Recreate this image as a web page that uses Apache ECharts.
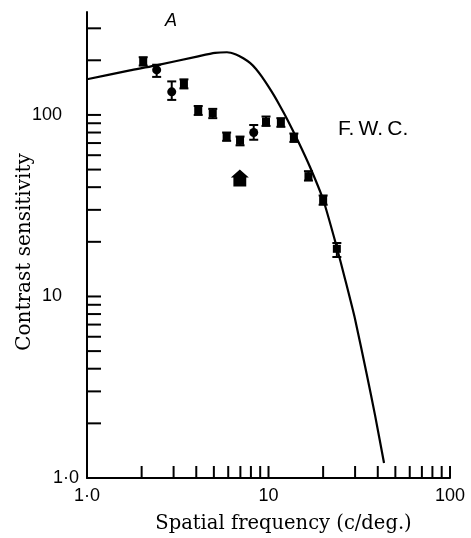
<!DOCTYPE html>
<html>
<head>
<meta charset="utf-8">
<script src="https://cdn.jsdelivr.net/npm/echarts@6/dist/echarts.min.js"></script>
<style>html,body{margin:0;padding:0;background:#fff;}#c{width:471px;height:538px;}</style>
</head>
<body>
<div id="c"></div>
<script>
// Spatial frequency (c/deg.) of measured points
const freq = [2.04, 2.42, 2.93, 3.42, 4.10, 4.93, 5.88, 6.97, 8.29, 9.69, 11.7, 13.8, 16.6, 20.0, 23.8];
// Contrast sensitivity of measured points
const sens = [197, 177, 134, 148, 106, 102, 76, 72, 80, 92, 91, 75, 46, 34, 18.3];
const errLo = [187, 162, 121, 140, 100, 96, 72, 68, 73, 87, 86, 71, 43.5, 32, 16.5];
const errHi = [208, 189, 153, 157, 112, 108, 80, 76, 88, 98, 96, 79, 49, 36, 19.7];
const shape = ['sq','ci','ci','sq','sq','sq','sq','sq','ci','sq','sq','sq','sq','sq','sq'];
// Model curve
const curveF = [1.0, 1.725, 2.331, 4.037, 5.073, 5.906, 6.62, 7.263, 7.908, 8.532, 9.21, 9.94, 10.72, 11.57, 12.65, 14.54, 16.93, 20.04, 23.76, 26.4, 29.97, 34.75, 38.63, 43.3];
const curveS = [157.3, 175.9, 186.2, 209.5, 219.6, 221.5, 215.4, 205.3, 193.4, 179.2, 162.0, 144.5, 128.1, 112.1, 95.1, 71.9, 51.7, 34.0, 18.74, 12.49, 7.52, 3.74, 2.22, 1.21];
// Arrow marker position
const arrowF = 6.95, arrowS = 45;
// Ticks
const xTicks = [2,3,4,5,6,7,8,9,10,20,30,40,50,60,70,80,90,100];
const yTicks = [2,3,4,5,6,7,8,9,10,20,30,40,50,60,70,80,90,100,200,300];
const xLabels = {1:'1·0', 10:'10', 100:'100'};
const yLabels = {1:'1·0', 10:'10', 100:'100'};

const chart = echarts.init(document.getElementById('c'), null, {renderer:'canvas'});
const sansFont = 'Liberation Sans';
const serifFont = 'DejaVu Serif';

const sqData = [], ciData = [], errData = [];
for (let i = 0; i < freq.length; i++) {
  (shape[i] === 'sq' ? sqData : ciData).push([freq[i], sens[i]]);
  errData.push([freq[i], errLo[i], errHi[i]]);
}
const curve = curveF.map((f, i) => [f, curveS[i]]);

chart.setOption({
  animation: false,
  backgroundColor: '#fff',
  grid: {left: 87, right: 21, top: 12, bottom: 60, containLabel: false, outerBoundsMode: 'none'},
  xAxis: {
    type: 'log', logBase: 10, min: 1, max: 100,
    axisLine: {show: true, lineStyle: {color: '#000', width: 2}},
    axisTick: {show: false},
    splitLine: {show: false},
    minorTick: {show: false},
    axisLabel: {
      margin: 9, color: '#000', fontFamily: sansFont, fontSize: 18,
      formatter: v => xLabels[Math.round(v)] || ''
    },
    name: 'Spatial frequency (c/deg.)', nameLocation: 'middle', nameGap: 36,
    nameTextStyle: {color: '#000', fontFamily: serifFont, fontSize: 19.5, padding: [0, 0, 0, 30]}
  },
  yAxis: {
    type: 'log', logBase: 10, min: 1, max: 369,
    axisLine: {show: true, lineStyle: {color: '#000', width: 2}},
    axisTick: {show: false},
    splitLine: {show: false},
    minorTick: {show: false},
    axisLabel: {
      margin: 8, color: '#000', fontFamily: sansFont, fontSize: 18, showMaxLabel: false,
      formatter: v => {
        const r = Math.round(v);
        if (Math.abs(v - r) > 1e-6) return '';
        if (r === 1) return '{b|1·0}';
        if (yLabels[r]) return '{a|' + yLabels[r] + '}';
        return '';
      },
      rich: {
        a: {color: '#000', fontFamily: sansFont, fontSize: 18, padding: [0, 17, 0, 0]},
        b: {color: '#000', fontFamily: sansFont, fontSize: 18}
      }
    },
    name: 'Contrast sensitivity', nameLocation: 'middle', nameGap: 52, nameRotate: 90,
    nameMoveOverlap: false,
    nameTextStyle: {color: '#000', fontFamily: serifFont, fontSize: 20, padding: [0, 14, 0, 0]}
  },
  series: [
    {
      type: 'custom', name: 'xticks', silent: true, clip: false,
      data: xTicks.map(v => [v, 1]),
      renderItem: (params, api) => {
        const p = api.coord([api.value(0), api.value(1)]);
        return {type: 'line', shape: {x1: p[0], y1: p[1], x2: p[0], y2: p[1] - 12}, style: {stroke: '#000', lineWidth: 2}};
      }
    },
    {
      type: 'custom', name: 'yticks', silent: true, clip: false,
      data: yTicks.map(v => [1, v]),
      renderItem: (params, api) => {
        const p = api.coord([api.value(0), api.value(1)]);
        return {type: 'line', shape: {x1: p[0], y1: p[1], x2: p[0] + 14, y2: p[1]}, style: {stroke: '#000', lineWidth: 2}};
      }
    },
    {
      type: 'line', name: 'curve', data: curve, smooth: 0.2, showSymbol: false,
      lineStyle: {color: '#000', width: 2.2}, z: 3
    },
    {
      type: 'custom', name: 'err', silent: true,
      data: errData,
      renderItem: (params, api) => {
        const x = api.value(0);
        const a = api.coord([x, api.value(1)]);
        const b = api.coord([x, api.value(2)]);
        const w = 4.5;
        return {type: 'group', children: [
          {type: 'line', shape: {x1: a[0], y1: a[1], x2: b[0], y2: b[1]}, style: {stroke: '#000', lineWidth: 2}},
          {type: 'line', shape: {x1: a[0] - w, y1: a[1], x2: a[0] + w, y2: a[1]}, style: {stroke: '#000', lineWidth: 2}},
          {type: 'line', shape: {x1: b[0] - w, y1: b[1], x2: b[0] + w, y2: b[1]}, style: {stroke: '#000', lineWidth: 2}}
        ]};
      },
      z: 4
    },
    {
      type: 'scatter', name: 'squares', data: sqData, symbol: 'rect', symbolSize: [8, 8],
      itemStyle: {color: '#000', opacity: 1}, z: 5
    },
    {
      type: 'scatter', name: 'circles', data: ciData, symbol: 'circle', symbolSize: 9,
      itemStyle: {color: '#000', opacity: 1}, z: 5
    },
    {
      type: 'scatter', name: 'arrow', data: [[arrowF, arrowS]],
      symbol: 'path://M14,0 L28,13 L24,13 L24,27 L4,27 L4,13 L0,13 Z', symbolSize: [18, 17],
      itemStyle: {color: '#000', opacity: 1}, z: 5
    }
  ],
  graphic: [
    {type: 'text', left: 165, top: 12, style: {text: 'A', fill: '#000', font: 'italic 18px "Liberation Sans"'}},
    {type: 'text', left: 338, top: 119, style: {text: 'F.\u2009W.\u2009C.', fill: '#000', font: '21px "Liberation Sans"'}}
  ]
});
</script>
</body>
</html>
